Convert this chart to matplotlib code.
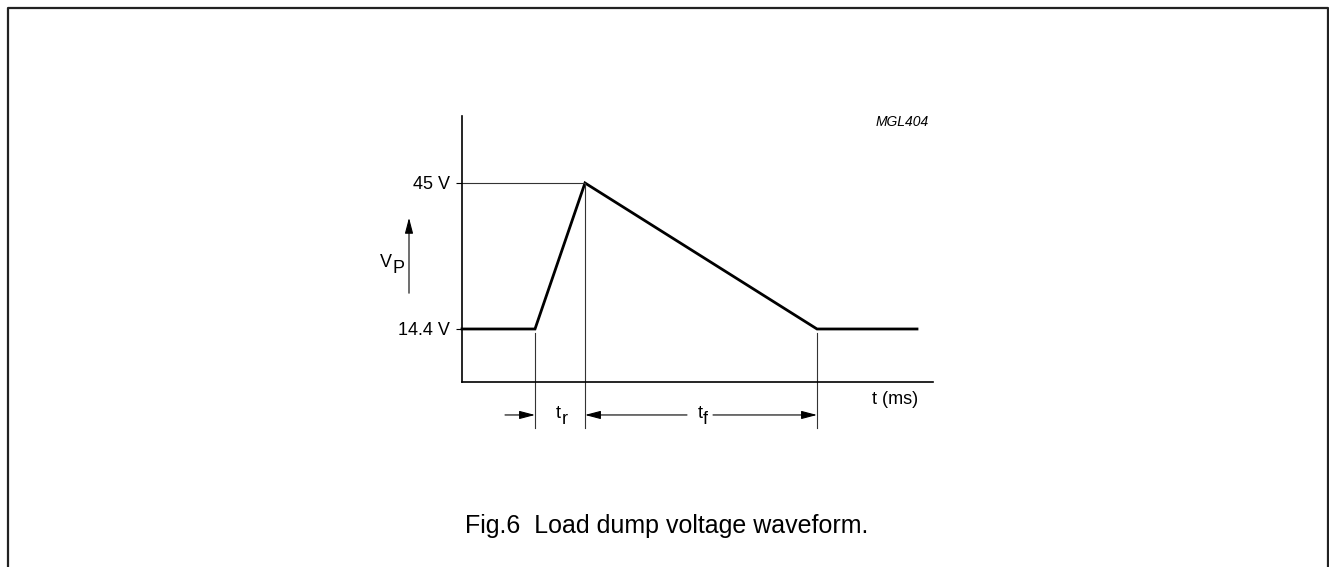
import matplotlib
matplotlib.use('Agg')
import matplotlib.pyplot as plt
from matplotlib.lines import Line2D

plt.rcParams['font.family'] = ['Liberation Sans', 'DejaVu Sans']

# Forma de onda (tempo em unidades arbitrárias, tensão em V)
t_pts = [0, 7.3, 12.3, 35.5, 45.5]
v_pts = [14.4, 14.4, 45, 14.4, 14.4]
v_levels = [14.4, 45]
v_labels = ['14.4 V', '45 V']
t_rise_start = 7.3
t_peak = 12.3
t_fall_end = 35.5

W, H = 1329, 567
fig = plt.figure(figsize=(W / 100, H / 100), dpi=100)

# Eixo posicionado como no desenho original
ax = fig.add_axes([462 / W, 1 - 382 / H, (933 - 462) / W, (382 - 116) / H])
ax.set_xlim(0, 47.1)
ax.set_ylim(3.29, 59.04)
for s in ['top', 'right']:
    ax.spines[s].set_visible(False)
for s in ['left', 'bottom']:
    ax.spines[s].set_linewidth(1.2)
ax.set_xticks([])
ax.set_yticks(v_levels)
ax.set_yticklabels(v_labels, fontsize=13)
ax.tick_params(axis='y', length=4.3, width=0.8, pad=4.3, direction='out')

# Curva principal
ax.plot(t_pts, v_pts, color='black', lw=2.0, solid_joinstyle='miter', clip_on=False)

# Linhas auxiliares finas
thin = dict(color='#333333', lw=0.8, clip_on=False)
ax.plot([0, t_peak], [45, 45], **thin)
y_low = -6.35
ax.plot([t_rise_start, t_rise_start], [13.56, y_low], **thin)
ax.plot([t_peak, t_peak], [45, y_low], **thin)
ax.plot([t_fall_end, t_fall_end], [13.56, y_low], **thin)

# Setas de tempo
arrow = dict(arrowstyle='-|>,head_length=0.95,head_width=0.25', color='black',
             lw=0.8, shrinkA=0, shrinkB=0, mutation_scale=10)
y_arr = -3.62
ax.annotate('', xy=(t_rise_start, y_arr), xytext=(4.3, y_arr), arrowprops=arrow, annotation_clip=False)
ax.annotate('', xy=(t_peak, y_arr), xytext=(22.5, y_arr), arrowprops=arrow, annotation_clip=False)
ax.annotate('', xy=(t_fall_end, y_arr), xytext=(25.1, y_arr), arrowprops=arrow, annotation_clip=False)


def sub_label(x, y, main, sub, size=13):
    ax.text(x, y, main, ha='right', va='center', fontsize=size, clip_on=False)
    ax.annotate(sub, xy=(x, y), xytext=(0.5, -4.5), textcoords='offset points',
                ha='left', va='center', fontsize=size, annotation_clip=False)


sub_label(9.9, y_arr + 0.3, 't', 'r')
sub_label(24.05, y_arr + 0.3, 't', 'f')
sub_label(-7.05, 28.4, 'V', 'P')

ax.text(43.3, -0.48, 't (ms)', ha='center', va='center', fontsize=13, clip_on=False)

# Seta do eixo V_P
ax.annotate('', xy=(-5.3, 37.7), xytext=(-5.3, 21.9), arrowprops=arrow, annotation_clip=False)

ax.text(44.0, 57.8, 'MGL404', ha='center', va='center', fontsize=10, style='italic', clip_on=False)

fig.text(667 / W, 1 - 526 / H, 'Fig.6  Load dump voltage waveform.', ha='center', va='center', fontsize=18)

# Moldura externa
fig.add_artist(Line2D([8 / W, 8 / W, 1328 / W, 1328 / W], [0, 1 - 8 / H, 1 - 8 / H, 0],
                      transform=fig.transFigure, color='#222222', lw=1.6))

plt.savefig('out.png', dpi=100)
